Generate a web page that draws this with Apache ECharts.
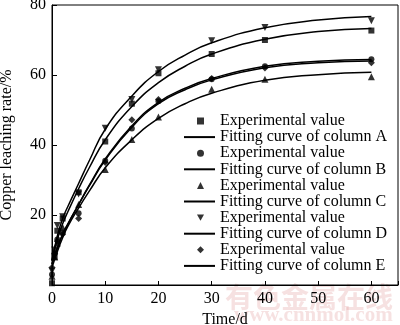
<!DOCTYPE html>
<html>
<head>
<meta charset="utf-8">
<script src="https://cdn.jsdelivr.net/npm/echarts@6/dist/echarts.min.js"></script>
<style>html,body{margin:0;padding:0;background:#fff}#c{width:400px;height:325px}</style>
</head>
<body>
<div id="c"></div>
<script>
// Experimental sampling times (d)
var expTimes = [0, 0.5, 1, 2, 5, 10, 15, 20, 30, 40, 60];
var expA = [0.5, 8, 15.5, 19, 26.5, 41, 51.8, 60.5, 66, 70, 72.7];
var expB = [3, 9, 13, 15, 20.5, 35.5, 44.7, 52.5, 58.8, 62.5, 64.5];
var expC = [2.5, 8, 12, 16.5, 23, 33, 41.6, 48, 55.9, 58.8, 59.5];
var expD = [4, 10, 17, 19.5, 26, 44.8, 53, 61.5, 69.8, 73.6, 75.5];
var expE = [5, 9, 12.5, 14.5, 19, 35, 47.2, 53, 59, 62, 63.5];

// Fitting curves
var fitTimes = [0, 1, 2, 3, 5, 7, 10, 15, 20, 25, 30, 40, 50, 60];
var fitA = [7, 13, 17.5, 21, 27.5, 33.5, 41.5, 51, 57.8, 62.5, 66, 70.2, 72.4, 73.3];
var fitB = [6, 10.5, 14.5, 17.5, 23, 28.5, 36, 45.5, 52.2, 56.2, 59, 62.5, 63.9, 64.4];
var fitC = [5, 9.5, 13.5, 16.8, 22, 26.8, 33.5, 41.5, 47.6, 51.8, 54.8, 58.5, 60.1, 60.8];
var fitD = [7, 14, 19, 22.5, 29, 35.5, 44.5, 54, 61, 65.7, 69.2, 73.5, 75.7, 76.7];
var fitE = [6, 10.5, 14.5, 17.5, 23, 28.3, 35.7, 45.1, 51.8, 55.8, 58.6, 62.1, 63.5, 64];

var xTicks = [0, 10, 20, 30, 40, 50, 60];
var yTicks = [20, 40, 60, 80];

var columns = ['A', 'B', 'C', 'D', 'E'];
var expSets = [expA, expB, expC, expD, expE];
var fitSets = [fitA, fitB, fitC, fitD, fitE];
var symbols = ['rect', 'circle', 'triangle', 'triangle', 'diamond'];
var legendIcons = ['rect', 'circle', 'triangle', 'path://M0,0L10,0L5,8.66Z', 'diamond'];
var symbolSizes = [6, 6, 7, 7, 7];
var symbolRot = [0, 0, 0, 180, 0];

function zip(xs, ys) { return xs.map(function (x, i) { return [x, ys[i]]; }); }

var FONT = '"Liberation Serif", "Times New Roman", serif';
var series = [];
var expLegend = [];
var fitLegend = [];
columns.forEach(function (c, i) {
  var en = 'Experimental value (' + c + ')';
  var fn = 'Fitting curve of column ' + c;
  series.push({
    name: en, type: 'scatter', data: zip(expTimes, expSets[i]),
    symbol: symbols[i], symbolSize: symbolSizes[i], symbolRotate: symbolRot[i],
    itemStyle: { color: '#000' }, z: 3
  });
  series.push({
    name: fn, type: 'line', data: zip(fitTimes, fitSets[i]),
    smooth: 0.5, symbol: 'none', showSymbol: false,
    lineStyle: { color: '#000', width: 1.5 }, itemStyle: { color: '#000' }, z: 2
  });
  expLegend.push({ name: en, icon: legendIcons[i] });
  fitLegend.push({ name: fn, itemStyle: { opacity: 0 } });
});

var ROW = 16.1;
var chart = echarts.init(document.getElementById('c'), null, { renderer: 'canvas' });
chart.setOption({
  animation: false,
  backgroundColor: '#fff',
  textStyle: { fontFamily: FONT },
  grid: { left: 52, right: 2, top: 5, bottom: 40, show: true, borderColor: '#000', borderWidth: 1,
    backgroundColor: 'transparent', containLabel: false, outerBoundsMode: 'none' },
  xAxis: {
    type: 'value', min: 0, max: 65, interval: 10,
    name: 'Time/d', nameLocation: 'middle', nameGap: 27,
    nameTextStyle: { fontFamily: FONT, fontSize: 16, color: '#000' },
    axisLine: { lineStyle: { color: '#000', width: 1 } },
    axisTick: { inside: true, length: 4, lineStyle: { color: '#000' } },
    axisLabel: { fontFamily: FONT, fontSize: 16, color: '#000', margin: 6,
      formatter: function (v) { return xTicks.indexOf(v) >= 0 ? String(v) : ''; } },
    splitLine: { show: false }
  },
  yAxis: {
    type: 'value', min: 0, max: 80, interval: 20,
    name: 'Copper leaching rate/%', nameLocation: 'middle', nameGap: 37,
    nameTextStyle: { fontFamily: FONT, fontSize: 16, color: '#000' },
    axisLine: { show: true, lineStyle: { color: '#000', width: 1 } },
    axisTick: { show: true, inside: true, length: 5, lineStyle: { color: '#000' } },
    axisLabel: { fontFamily: FONT, fontSize: 16, color: '#000', margin: 6,
      formatter: function (v) { return yTicks.indexOf(v) >= 0 ? String(v) : ''; } },
    splitLine: { show: false }
  },
  legend: [
    {
      orient: 'vertical', left: 197, top: 113, padding: 0,
      itemWidth: 7, itemHeight: 7, itemGap: 2 * ROW - 16, selectedMode: false,
      data: expLegend,
      textStyle: { fontFamily: FONT, fontSize: 16, color: '#000', lineHeight: 16, padding: [0, 0, 0, 11] },
      formatter: function () { return 'Experimental value'; }
    },
    {
      orient: 'vertical', left: 183, top: 113 + ROW, padding: 0,
      itemWidth: 31, itemHeight: 7, itemGap: 2 * ROW - 16, selectedMode: false,
      data: fitLegend,
      textStyle: { fontFamily: FONT, fontSize: 16, color: '#000', lineHeight: 16 }
    }
  ],
  graphic: [
    { type: 'text', left: 225, top: 283, z: -1, silent: true,
      style: { text: '有色金属在线', font: 'bold 28px "Noto Sans CJK SC", sans-serif', fill: 'rgba(220,140,140,0.26)' } },
    { type: 'text', left: 234, top: 305, z: -1, silent: true,
      style: { text: 'www.cnnmol.com', font: 'bold 21px ' + FONT, fill: 'rgba(220,140,140,0.26)' } }
  ],
  series: series
});
</script>
</body>
</html>
